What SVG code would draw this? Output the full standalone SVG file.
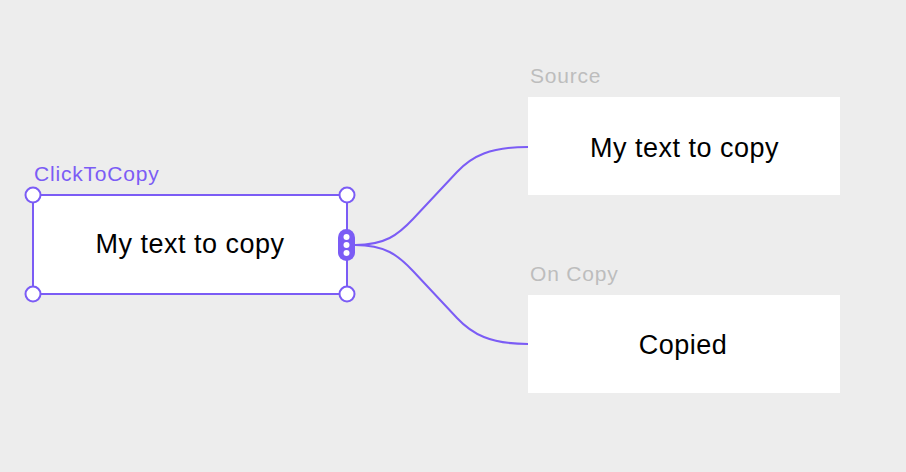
<svg xmlns="http://www.w3.org/2000/svg" width="906" height="472" viewBox="0 0 906 472">
<style>
.bg{fill:#EDEDED}
.box{fill:#FFFFFF}
.sel{fill:#FFFFFF;stroke:#7B5CF5;stroke-width:2}
.handle{fill:#FFFFFF;stroke:#7B5CF5;stroke-width:2}
.txt{font-family:"Liberation Sans",Arial,sans-serif;font-size:27px;fill:#000000;text-anchor:middle;letter-spacing:0.5px}
.lbl{font-family:"Liberation Sans",Arial,sans-serif;font-size:21px;letter-spacing:0.8px}
.gray{fill:#BDBDBD}
.purple{fill:#7B5CF5}
.edge{fill:none;stroke:#7B5CF5;stroke-width:2}
</style>
<rect class="bg" x="0" y="0" width="906" height="472"/>
<g id="connectors">
<path class="edge" d="M355,245 C385,245 398,235 413,219 L457,172 C472,156 490,147 528,147"/>
<path class="edge" d="M355,245 C385,245 398,255 413,271 L457,318 C472,334 490,344 528,344"/>
</g>
<g id="node-clicktocopy">
<text class="lbl purple" x="34" y="181">ClickToCopy</text>
<rect class="sel" x="33" y="195" width="314" height="99"/>
<text class="txt" x="190" y="253">My text to copy</text>
<circle class="handle" cx="33" cy="195" r="7.5"/>
<circle class="handle" cx="347" cy="195" r="7.5"/>
<circle class="handle" cx="33" cy="294" r="7.5"/>
<circle class="handle" cx="347" cy="294" r="7.5"/>
<rect class="purple" x="338" y="229" width="17" height="32" rx="8.5"/>
<circle cx="346.5" cy="237" r="3" fill="#FFFFFF"/>
<circle cx="346.5" cy="245" r="3" fill="#FFFFFF"/>
<circle cx="346.5" cy="253" r="3" fill="#FFFFFF"/>
</g>
<g id="node-source">
<text class="lbl gray" x="530" y="83">Source</text>
<rect class="box" x="528" y="97" width="312" height="98"/>
<text class="txt" x="684.5" y="157">My text to copy</text>
</g>
<g id="node-oncopy">
<text class="lbl gray" x="530" y="281">On Copy</text>
<rect class="box" x="528" y="295" width="312" height="98"/>
<text class="txt" x="683" y="354">Copied</text>
</g>
</svg>
